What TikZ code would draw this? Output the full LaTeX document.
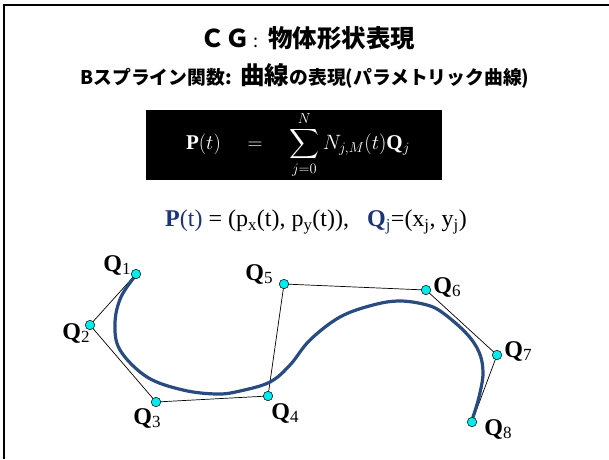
\documentclass[tikz,border=0pt]{standalone}
\usepackage{amsmath}
\usepackage{fontspec}
\setmainfont{Liberation Serif}
\newfontfamily\jpfont{Noto Sans CJK JP}
\usetikzlibrary{calc}
\definecolor{curveblue}{RGB}{40,76,128}
\definecolor{navy}{RGB}{28,52,120}
\definecolor{ptcyan}{RGB}{0,235,235}
\newcommand{\Qlab}[1]{\textbf{Q}\raisebox{-0.3ex}{\fontsize{17}{17}\selectfont #1}}

\begin{document}
\begin{tikzpicture}[x=1pt,y=-1pt,
    ctrlpt/.style={circle,draw=black,fill=ptcyan,inner sep=0pt,minimum size=9.5pt,line width=0.5pt},
    qlabel/.style={font=\fontsize{24}{24}\selectfont,inner sep=0pt}]
    \useasboundingbox (0,0) rectangle (609,459);

    % slide frame (top and left edge)
    \draw[line width=2.5pt] (4,459) -- (4,5) -- (609,5);

    %======================================================
    % titles
    %======================================================
    \node[font=\jpfont\bfseries\fontsize{24.5}{24.5}\selectfont] (title) at (308,38)
        {ＣＧ\,{\mdseries\fontsize{18}{18}\selectfont :}\,\ 物体形状表現};
    \node[font=\jpfont\bfseries\fontsize{18.8}{18.8}\selectfont] (subtitle) at (305,76)
        {Bスプライン関数:\ \ {\fontsize{24.5}{24.5}\selectfont 曲線}の表現(パラメトリック曲線)};

    %======================================================
    % formula box
    %======================================================
    \node[fill=black,text=white,minimum width=296pt,minimum height=70pt,inner sep=0pt,
        font=\fontsize{21}{24}\selectfont] (formula) at (294,145)
        {\hspace*{8pt}$\displaystyle \mathbf{P}(t)\quad=\quad\sum_{j=0}^{N} N_{j,M}(t)\mathbf{Q}_j$};

    % point definition
    \node[font=\fontsize{24}{24}\selectfont] (defn) at (316,222)
        {\textcolor{navy}{\textbf{P}(t)} = (p\textsubscript{x}(t), p\textsubscript{y}(t)),\ \ \
         \textcolor{navy}{\textbf{Q}\textsubscript{j}}=(x\textsubscript{j}, y\textsubscript{j})};

    %======================================================
    % control points
    %======================================================
    \coordinate (C1) at (136,274);
    \coordinate (C2) at (90,325);
    \coordinate (C3) at (156,402);
    \coordinate (C4) at (268,396);
    \coordinate (C5) at (284,284);
    \coordinate (C6) at (426,290);
    \coordinate (C7) at (497,355);
    \coordinate (C8) at (472,422);

    % control polygon
    \draw[line width=0.7pt] (C1) -- (C2) -- (C3) -- (C4) -- (C5) -- (C6) -- (C7) -- (C8);

    % B-spline curve
    \draw[curveblue,line width=3.2pt,line cap=round] plot[smooth,tension=0.6] coordinates {
        (136,275) (121,297) (115,323) (120,350) (147,377) (183,390) (217,394)
        (240,391) (270,382) (290,365) (310,340) (340,317) (373,305) (400,301)
        (427,305) (443,313) (466,333) (479,352) (483,373) (479,397) (473,417)};

    % points
    \foreach \i in {1,...,8}{
        \node[ctrlpt] (Q\i) at (C\i) {};
    }

    % labels
    \node[qlabel] (L1) at (117,265) {\Qlab{1}};
    \node[qlabel] (L2) at (76,333) {\Qlab{2}};
    \node[qlabel] (L3) at (147,418) {\Qlab{3}};
    \node[qlabel] (L4) at (285,413) {\Qlab{4}};
    \node[qlabel] (L5) at (259,274) {\Qlab{5}};
    \node[qlabel] (L6) at (447,287) {\Qlab{6}};
    \node[qlabel] (L7) at (518,351) {\Qlab{7}};
    \node[qlabel] (L8) at (498,429) {\Qlab{8}};
\end{tikzpicture}
\end{document}
